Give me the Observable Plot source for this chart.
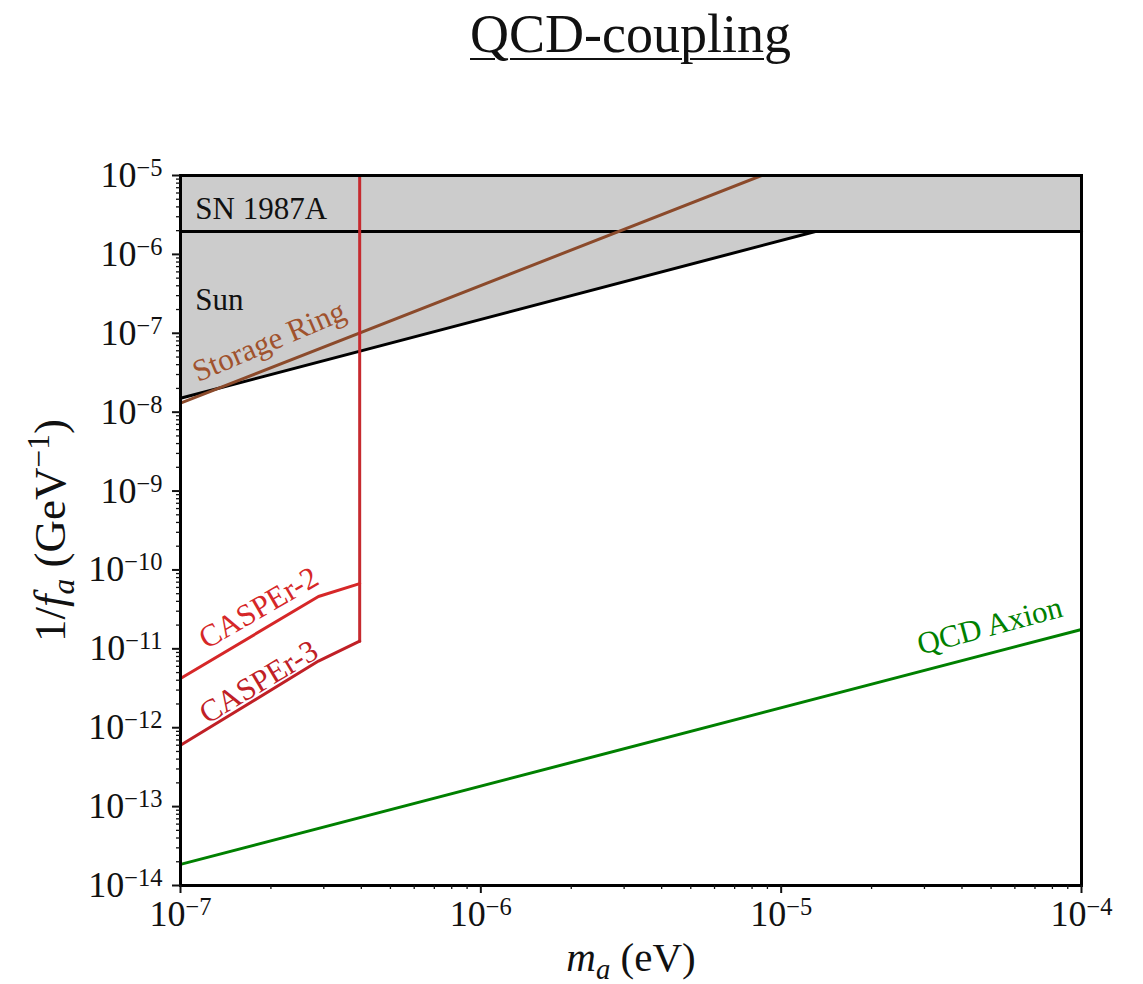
<!DOCTYPE html>
<html>
<head>
<meta charset="utf-8">
<script src="https://cdn.jsdelivr.net/npm/d3@7"></script>
<script src="https://cdn.jsdelivr.net/npm/@observablehq/plot@0.6"></script>
<style>
  body { margin: 0; background: #fff; }
  #title { width: 1143px; height: 90px; box-sizing: border-box; padding: 2px 62px 0 180px; text-align: center;
    font-family: "Liberation Serif", serif; font-size: 54px; line-height: 64px; color: #111; }
  #title span { text-decoration: underline; text-decoration-thickness: 2px; text-underline-offset: 6px; }
</style>
</head>
<body>
<div id="title"><span>QCD-coupling</span></div>
<div id="chart"></div>
<script>
// ---- data ----
const sunBoundary = [ // lower edge of excluded grey region (Sun + SN 1987A)
  {m: 1e-7, g: 1.5e-8}, {m: 1.3e-5, g: 1.95e-6}, {m: 1e-4, g: 1.95e-6}
];
const regionTop = 1e-5;
const snLine = [{m: 1e-7, g: 1.95e-6}, {m: 1e-4, g: 1.95e-6}];
const sunLine = [{m: 1e-7, g: 1.5e-8}, {m: 1.3e-5, g: 1.95e-6}];
const storageRing = [{m: 1e-7, g: 1.3e-8}, {m: 8.6e-6, g: 1e-5}];
const casperVertical = [{m: 3.95e-7, g: 1e-5}, {m: 3.95e-7, g: 1.25e-11}];
const casper2 = [{m: 1e-7, g: 4.2e-12}, {m: 2.88e-7, g: 4.6e-11}, {m: 3.95e-7, g: 6.7e-11}];
const casper3 = [{m: 1e-7, g: 6.0e-13}, {m: 2.88e-7, g: 7.0e-12}, {m: 3.95e-7, g: 1.25e-11}];
const qcdAxion = [{m: 1e-7, g: 1.85e-14}, {m: 1e-4, g: 1.76e-11}];
const regionLabels = [
  {m: 1.12e-7, g: 3.8e-6, text: "SN 1987A"},
  {m: 1.12e-7, g: 2.6e-7, text: "Sun"}
];
const lineLabels = [
  {m: 1.97e-7, g: 7.9e-8, text: "Storage Ring", color: "#a0522d", rotate: -23},
  {m: 1.82e-7, g: 3.3e-11, text: "CASPEr-2", color: "#d62728", rotate: -30},
  {m: 1.82e-7, g: 3.8e-12, text: "CASPEr-3", color: "#c02026", rotate: -31},
  {m: 4.95e-5, g: 1.95e-11, text: "QCD Axion", color: "#008000", rotate: -15}
];
const xMajor = [1e-7, 1e-6, 1e-5, 1e-4];
const yMajor = [1e-14, 1e-13, 1e-12, 1e-11, 1e-10, 1e-9, 1e-8, 1e-7, 1e-6, 1e-5];
const minorMult = [2, 3, 4, 5, 6, 7, 8, 9];
const xMinor = xMajor.slice(0, -1).flatMap(d => minorMult.map(k => k * d));
const yMinor = yMajor.slice(0, -1).flatMap(d => minorMult.map(k => k * d));
const xLabel = "XLABEL", yLabel = "YLABEL";

const fmt = d => "10^" + Math.round(Math.log10(d));

const plot = Plot.plot({
  width: 1143, height: 894,
  marginLeft: 180, marginRight: 62, marginTop: 85, marginBottom: 99,
  style: {fontFamily: "Liberation Serif, serif", fontSize: "34px", color: "#111", background: "#fff"},
  x: {type: "log", domain: [1e-7, 1e-4]},
  y: {type: "log", domain: [1e-14, 1e-5]},
  marks: [
    Plot.areaY(sunBoundary, {x: "m", y1: "g", y2: () => regionTop, fill: "#cccccc", curve: "linear"}),
    Plot.line(snLine, {x: "m", y: "g", stroke: "black", strokeWidth: 3}),
    Plot.line(sunLine, {x: "m", y: "g", stroke: "black", strokeWidth: 3}),
    Plot.line(storageRing, {x: "m", y: "g", stroke: "#8b4a2b", strokeWidth: 3, clip: true}),
    Plot.line(casperVertical, {x: "m", y: "g", stroke: "#c62a2f", strokeWidth: 3}),
    Plot.line(casper2, {x: "m", y: "g", stroke: "#d62728", strokeWidth: 3}),
    Plot.line(casper3, {x: "m", y: "g", stroke: "#c02026", strokeWidth: 3}),
    Plot.line(qcdAxion, {x: "m", y: "g", stroke: "#008000", strokeWidth: 3}),
    Plot.frame({stroke: "black", strokeWidth: 3}),
    Plot.text(regionLabels, {x: "m", y: "g", text: "text", fill: "#111", textAnchor: "start", fontSize: 31}),
    Plot.text(lineLabels, {x: "m", y: "g", text: "text", fill: "color", rotate: "rotate", textAnchor: "middle", fontSize: 31}),
    Plot.axisX(xMajor, {tickSize: 8, tickPadding: 7, strokeWidth: 2, tickFormat: fmt, label: null, fontSize: 36}),
    Plot.axisX(xMinor, {tickSize: 4, strokeWidth: 1.3, tickFormat: () => "", label: null}),
    Plot.axisY(yMajor, {tickSize: 8, tickPadding: 10, strokeWidth: 2, tickFormat: fmt, label: null, fontSize: 36}),
    Plot.axisY(yMinor, {tickSize: 4, strokeWidth: 1.3, tickFormat: () => "", label: null}),
    Plot.text([xLabel], {frameAnchor: "bottom", dy: 72, fontSize: 41, textAnchor: "middle", lineAnchor: "middle"}),
    Plot.text([yLabel], {frameAnchor: "left", dx: -130, rotate: -90, fontSize: 45, textAnchor: "middle", lineAnchor: "middle"})
  ]
});
document.getElementById("chart").appendChild(plot);

// Post-process: superscripts / subscripts / italics
const svg = d3.select(plot);
svg.selectAll("text").each(function() {
  const t = d3.select(this);
  const s = this.textContent;
  const m = /^10\^(-?\d+)$/.exec(s);
  if (m) {
    t.text("10");
    t.append("tspan").attr("dy", "-0.45em").attr("font-size", "68%").text(m[1].replace("-", "\u2212"));
  } else if (s === xLabel) {
    t.text("");
    t.append("tspan").attr("font-style", "italic").text("m");
    t.append("tspan").attr("font-size", "70%").attr("font-style", "italic").attr("dy", "0.3em").text("a");
    t.append("tspan").attr("dy", "-0.21em").text(" (eV)");
  } else if (s === yLabel) {
    t.text("");
    t.append("tspan").text("1/");
    t.append("tspan").attr("font-style", "italic").text("f");
    t.append("tspan").attr("font-size", "70%").attr("font-style", "italic").attr("dy", "0.3em").text("a");
    t.append("tspan").attr("dy", "-0.21em").text(" (GeV");
    t.append("tspan").attr("font-size", "70%").attr("dy", "-0.5em").text("\u22121");
    t.append("tspan").attr("dy", "0.35em").text(")");
  }
});
</script>
</body>
</html>
